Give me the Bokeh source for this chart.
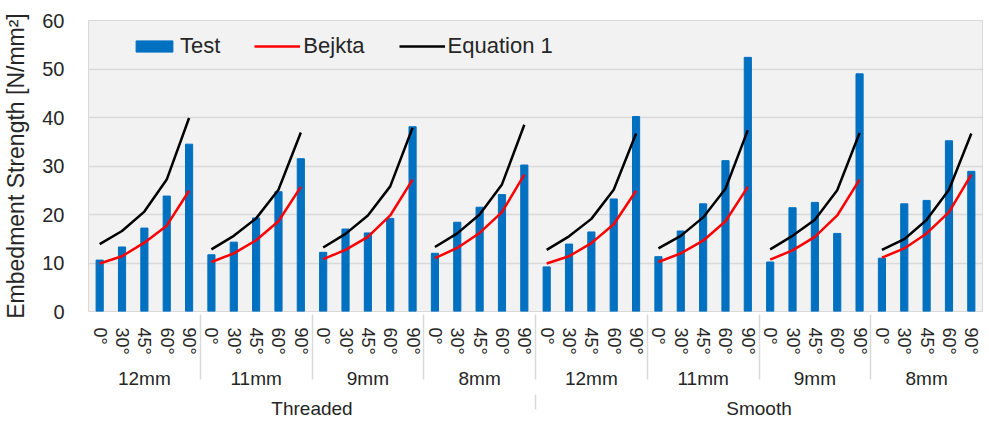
from bokeh.plotting import figure
from bokeh.models import (FactorRange, Range1d, CategoricalAxis, FixedTicker,
                          Legend, LegendItem, ColumnDataSource)
from bokeh.embed import file_html
from bokeh.resources import INLINE

# ---------------- data ----------------
types = ["Threaded", "Smooth"]
diameters = ["12mm", "11mm", "9mm", "8mm"]
angles = ["0°", "30°", "45°", "60°", "90°"]

test = [10.6, 13.3, 17.2, 23.8, 34.5,
        11.7, 14.3, 19.3, 24.7, 31.5,
        12.2, 17.0, 16.2, 19.2, 38.1,
        12.0, 18.4, 21.5, 24.1, 30.2,
        9.2, 13.9, 16.4, 23.2, 40.2,
        11.3, 16.6, 22.2, 31.1, 52.4,
        10.2, 21.4, 22.5, 16.1, 49.0,
        11.0, 22.2, 22.9, 35.2, 28.9]

bejkta = [9.9, 11.4, 14.2, 17.7, 24.9,
          10.2, 12.0, 14.7, 18.6, 25.7,
          10.8, 12.7, 15.4, 19.8, 27.2,
          11.0, 13.1, 16.2, 20.5, 28.2,
          9.9, 11.4, 14.1, 18.0, 24.9,
          10.2, 12.0, 14.6, 18.6, 25.7,
          10.7, 12.6, 15.4, 19.8, 27.2,
          11.1, 13.0, 16.1, 20.5, 28.2]

equation1 = [13.9, 16.6, 20.6, 27.2, 39.9,
             12.8, 15.6, 19.2, 25.1, 36.9,
             13.2, 16.0, 19.8, 25.8, 37.9,
             13.3, 16.1, 20.0, 26.2, 38.5,
             12.7, 15.5, 19.1, 25.1, 36.7,
             13.0, 15.6, 19.4, 25.3, 37.4,
             12.8, 15.6, 18.9, 25.0, 36.8,
             12.7, 14.9, 18.9, 25.1, 36.7]

y_ticks = [0, 10, 20, 30, 40, 50, 60]

# ---------------- factors ----------------
# second type's diameter groups get an invisible zero-width mark so that
# the group names stay unique in the 2-level factor range
groups = []
for ti, t in enumerate(types):
    for d in diameters:
        groups.append(d + ("\u200b" * ti))
factors = [(g, a) for g in groups for a in angles]

FONT = "Liberation Sans"
TXT = "#262626"
BLUE = "#0070C0"
GRID = "#d9d9d9"

x_range = FactorRange(factors=factors, range_padding=0, factor_padding=0,
                      group_padding=0, subgroup_padding=0)

p = figure(width=989, height=421, x_range=x_range, y_range=Range1d(0, 60),
           output_backend="svg", toolbar_location=None,
           min_border_left=83, min_border_right=7, min_border_top=20,
           min_border_bottom=0, x_axis_location=None)
p.background_fill_color = "#f2f2f2"
p.border_fill_color = "white"
p.outline_line_color = GRID

p.extra_x_ranges = {"types": FactorRange(factors=[(t, " ") for t in types],
                                         range_padding=0, factor_padding=0,
                                         group_padding=0)}

src = ColumnDataSource(dict(x=factors, test=test))
bars = p.vbar(x="x", top="test", width=0.32, source=src, color=BLUE)

n = len(angles)
xs = [factors[i * n:(i + 1) * n] for i in range(len(groups))]
ys_b = [bejkta[i * n:(i + 1) * n] for i in range(len(groups))]
ys_e = [equation1[i * n:(i + 1) * n] for i in range(len(groups))]
bej = p.multi_line(xs=xs, ys=ys_b, line_color="#ff0000", line_width=2.5)
eq = p.multi_line(xs=xs, ys=ys_e, line_color="#000000", line_width=2.5)

# axes
ax_a = CategoricalAxis(major_tick_line_color=None, minor_tick_line_color=None,
                       axis_line_color=None,
                       major_label_orientation="vertical",
                       major_label_standoff=10,
                       major_label_text_font=FONT, major_label_text_font_size="18px",
                       major_label_text_color=TXT,
                       group_text_font=FONT, group_text_font_size="19px",
                       group_text_font_style="normal",
                       group_text_color=TXT,
                       separator_line_color=GRID, separator_line_width=1.5)
p.add_layout(ax_a, "below")
ax_b = CategoricalAxis(x_range_name="types",
                       major_tick_line_color=None, minor_tick_line_color=None,
                       axis_line_color=None,
                       major_label_text_font_size="1px",
                       major_label_standoff=-2,
                       group_text_font=FONT, group_text_font_size="19px",
                       group_text_font_style="normal",
                       group_text_color=TXT,
                       separator_line_color=GRID, separator_line_width=1.5)
p.add_layout(ax_b, "below")

p.yaxis.ticker = FixedTicker(ticks=y_ticks)
p.yaxis.axis_line_color = None
p.yaxis.major_tick_line_color = None
p.yaxis.minor_tick_line_color = None
p.yaxis.major_label_standoff = 18
p.yaxis.major_label_text_font = FONT
p.yaxis.major_label_text_font_size = "20px"
p.yaxis.major_label_text_color = TXT
p.yaxis.axis_label = "Embedment Strength [N/mm²]"
p.yaxis.axis_label_text_font = FONT
p.yaxis.axis_label_text_font_size = "23px"
p.yaxis.axis_label_text_font_style = "normal"
p.yaxis.axis_label_text_color = TXT
p.yaxis.axis_label_standoff = 10

p.xgrid.grid_line_color = None
p.ygrid.grid_line_color = GRID
p.ygrid.grid_line_width = 1.5

legend = Legend(items=[LegendItem(label="Test", renderers=[bars]),
                       LegendItem(label="Bejkta", renderers=[bej]),
                       LegendItem(label="Equation 1", renderers=[eq])],
                orientation="horizontal", location=(43, 252), padding=0,
                spacing=34, glyph_width=46, glyph_height=14, label_standoff=3,
                label_text_font=FONT, label_text_font_size="22px",
                label_text_color=TXT, border_line_color=None,
                background_fill_alpha=0)
p.add_layout(legend)

open("out.html", "w").write(file_html(p, INLINE))
